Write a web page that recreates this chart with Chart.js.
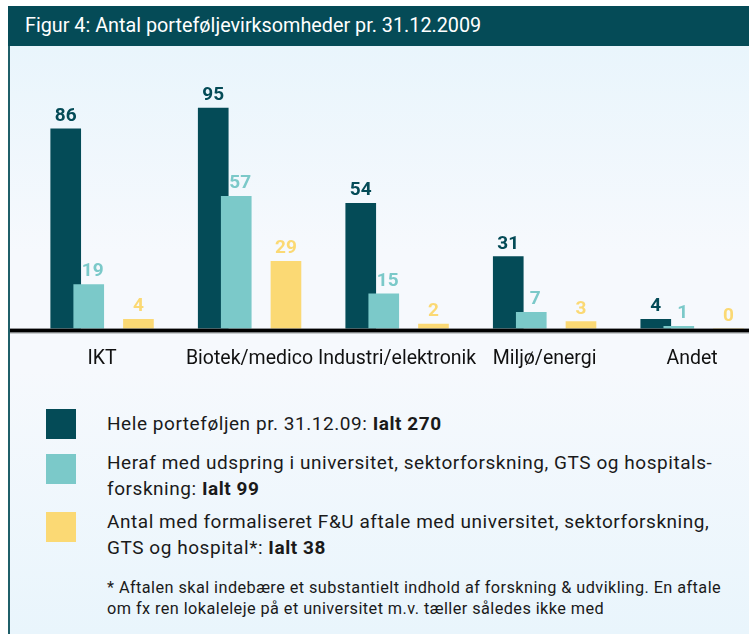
<!DOCTYPE html>
<html>
<head>
<meta charset="utf-8">
<script src="https://cdn.jsdelivr.net/npm/chart.js@4.4.1/dist/chart.umd.min.js"></script>
<style>
  html, body { margin: 0; padding: 0; background: #fff; }
  body { width: 749px; height: 634px; position: relative; overflow: hidden; font-family: Roboto, "Noto Sans", sans-serif; }
  #frame { position: absolute; left: 8px; top: 6px; width: 741px; height: 628px; border-left: 2px solid #1f5f69; box-sizing: border-box; }
  #titlebar { position: absolute; left: -2px; top: 0; right: 0; height: 40px; background: #054b57; color: #fff; font-size: 19.8px; line-height: 40px; padding-left: 17px; white-space: nowrap; }
  #plot { position: absolute; left: 0; top: 40px; right: 0; bottom: 0;
    background: linear-gradient(to bottom, #e9f5fc 0%, #f6f9fd 35%, #f6f9fd 55%, #e9f5fc 100%); }
  #chartBox { position: absolute; left: 0; top: 46px; width: 749px; height: 344px; }
  .swatch { position: absolute; left: 46px; width: 30px; height: 30px; }
  .ltext { position: absolute; left: 107px; font-size: 19px; letter-spacing: 0.55px; line-height: 26px; color: #1a1a1a; white-space: nowrap; }
  .ltext b { font-weight: 700; }
  #note { position: absolute; left: 107px; top: 577px; font-size: 16.3px; letter-spacing: 0.43px; line-height: 21px; color: #1a1a1a; white-space: nowrap; }
</style>
</head>
<body>
<div id="frame">
  <div id="titlebar">Figur 4: Antal porteføljevirksomheder pr. 31.12.2009</div>
  <div id="plot"></div>
</div>
<div id="chartBox"><canvas id="chart"></canvas></div>
<div id="legend"></div>
<div id="note">* Aftalen skal indebære et substantielt indhold af forskning &amp; udvikling. En aftale<br>om fx ren lokaleleje på et universitet m.v. tæller således ikke med</div>

<script>
// data
const categories = ['IKT', 'Biotek/medico', 'Industri/elektronik', 'Miljø/energi', 'Andet'];
const helePortefoljen = [86, 95, 54, 31, 4];
const udspring = [19, 57, 15, 7, 1];
const formaliseret = [4, 29, 2, 3, 0];

const seriesLabels = [
  'Hele porteføljen pr. 31.12.09: ',
  'Heraf med udspring i universitet, sektorforskning, GTS og hospitals-<br>forskning: ',
  'Antal med formaliseret F&amp;U aftale med universitet, sektorforskning,<br>GTS og hospital*: '
];

// udseende
const colors = ['#044b57', '#7bc9c9', '#fbd974'];
const groupOffsets = [-0.246, -0.09, 0.247]; // placering inden for gruppen (kategori-enheder)
const labelShift = [0, 4, 0];                  // tal-label forskydning i px
const legendTops = [409, 454, 512];
const textTops = [411, 450, 509];

const allSeries = [helePortefoljen, udspring, formaliseret];

// legend (html)
const legendElem = document.getElementById('legend');
allSeries.forEach((vals, i) => {
  const total = vals.reduce((a, b) => a + b, 0);
  const sw = document.createElement('div');
  sw.className = 'swatch';
  sw.style.top = legendTops[i] + 'px';
  sw.style.background = colors[i];
  legendElem.appendChild(sw);
  const t = document.createElement('div');
  t.className = 'ltext';
  t.style.top = textTops[i] + 'px';
  t.innerHTML = seriesLabels[i] + '<b>Ialt ' + total + '</b>';
  legendElem.appendChild(t);
});

// tal over søjlerne + aksestreg
const barLabels = {
  id: 'barLabels',
  afterDatasetsDraw(chart) {
    const ctx = chart.ctx;
    const area = chart.chartArea;
    ctx.save();
    ctx.fillStyle = '#000';
    ctx.fillRect(area.left, area.bottom, area.right - area.left, 4);
    ctx.fillStyle = '#a8acae';
    ctx.fillRect(area.left, area.bottom + 4, area.right - area.left, 1);
    ctx.font = 'bold 19px Roboto, "Noto Sans", sans-serif';
    ctx.textAlign = 'center';
    ctx.textBaseline = 'alphabetic';
    chart.data.datasets.forEach((ds, i) => {
      const meta = chart.getDatasetMeta(i);
      ctx.fillStyle = ds.backgroundColor;
      meta.data.forEach((bar, j) => {
        ctx.fillText(String(ds.data[j].y), bar.x + labelShift[i], bar.y - 8);
      });
    });
    ctx.restore();
  }
};

const datasets = allSeries.map((vals, i) => ({
  label: String(i),
  data: vals.map((v, j) => ({ x: j + groupOffsets[i], y: v })),
  backgroundColor: colors[i],
  borderWidth: 0,
  barThickness: 30,
  grouped: false,
  order: 2 - i
}));

new Chart(document.getElementById('chart'), {
  type: 'bar',
  data: { datasets },
  options: {
    responsive: true,
    maintainAspectRatio: false,
    animation: false,
    layout: { padding: { left: 10, right: 0, top: 14, bottom: 0 } },
    plugins: { legend: { display: false }, tooltip: { enabled: false } },
    scales: {
      x: {
        type: 'linear',
        offset: false,
        min: -0.6237,
        max: 4.386,
        grid: { display: false, drawTicks: false, offset: false },
        border: { display: false },
        afterBuildTicks: (axis) => { axis.ticks = categories.map((c, i) => ({ value: i })); },
        ticks: {
          autoSkip: false,
          maxRotation: 0,
          padding: 19,
          color: '#111',
          font: { family: 'Roboto, "Noto Sans", sans-serif', size: 19.5 },
          callback: (v) => categories[v]
        }
      },
      y: {
        display: false,
        min: 0,
        max: 115.7
      }
    }
  },
  plugins: [barLabels]
});
</script>
</body>
</html>
